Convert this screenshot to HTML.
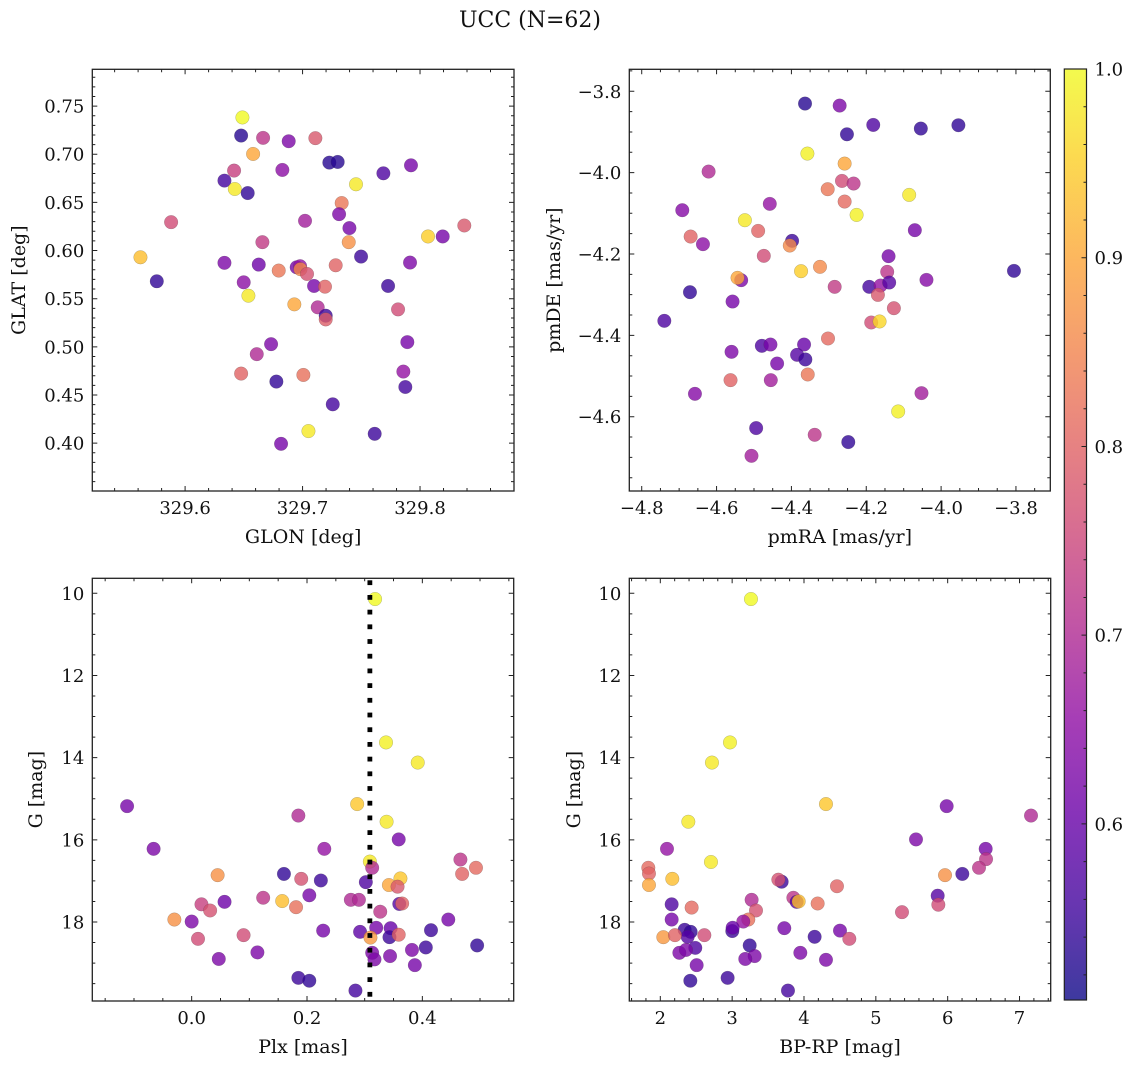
<!DOCTYPE html>
<html><head><meta charset="utf-8">
<style>
html,body{margin:0;padding:0;background:#fff;}
svg{display:block;}
text{font-family:"DejaVu Serif","Liberation Serif",serif;fill:#111;}
</style></head>
<body>
<svg id="fig" width="1136" height="1068" viewBox="0 0 1136 1068" xmlns="http://www.w3.org/2000/svg">
<text x="530" y="27" font-size="22" text-anchor="middle">UCC (N=62)</text>
</svg>
<script>
// ---- data: panel GLON/GLAT ----
const glon = [329.6488,329.6477,329.6664,329.6882,329.7109,329.6579,329.7228,329.7299,329.6417,329.6828,329.6335,329.7688,329.7923,329.7455,329.6423,329.6533,329.7333,329.7311,329.7021,329.7399,329.5881,329.8068,329.8193,329.8377,329.6658,329.7393,329.562,329.7498,329.6335,329.6627,329.695,329.6979,329.6982,329.6797,329.7038,329.7282,329.7915,329.5759,329.6499,329.7098,329.7191,329.7728,329.6539,329.693,329.7129,329.7813,329.7197,329.7197,329.6732,329.661,329.7892,329.6477,329.7007,329.6777,329.7858,329.7875,329.7257,329.705,329.7614,329.6817];
const glat = [0.7382,0.7194,0.717,0.7135,0.7167,0.7003,0.6913,0.692,0.683,0.6837,0.6726,0.6802,0.6885,0.6688,0.6639,0.6597,0.6493,0.6378,0.6309,0.6233,0.6295,0.6146,0.6146,0.626,0.6087,0.6087,0.593,0.5937,0.5872,0.5854,0.5826,0.5837,0.5806,0.5792,0.5757,0.5847,0.5875,0.5681,0.567,0.5632,0.5625,0.5632,0.5531,0.5441,0.541,0.5389,0.5323,0.5285,0.5028,0.4924,0.5049,0.4722,0.4708,0.4639,0.4743,0.4583,0.4403,0.4125,0.4097,0.3993];
const probA = [1.0,0.53,0.72,0.63,0.78,0.9,0.53,0.53,0.74,0.65,0.56,0.57,0.62,0.98,0.98,0.54,0.83,0.63,0.68,0.62,0.76,0.95,0.62,0.78,0.73,0.87,0.93,0.55,0.63,0.61,0.62,0.66,0.86,0.83,0.77,0.8,0.63,0.54,0.65,0.62,0.8,0.55,0.98,0.9,0.7,0.76,0.55,0.79,0.63,0.7,0.62,0.8,0.82,0.54,0.66,0.56,0.56,0.98,0.55,0.62];
// ---- data: panel pmRA/pmDE ----
const pmra = [-4.3636,-4.2711,-4.1813,-4.2516,-4.0542,-3.9538,-4.3573,-4.2578,-4.6213,-4.2649,-4.2338,-4.3031,-4.2578,-4.0853,-4.6916,-4.4578,-4.2258,-4.5244,-4.4889,-4.0702,-4.6693,-4.6364,-4.3982,-4.4044,-4.4738,-4.1404,-4.3742,-4.3236,-4.144,-3.8053,-4.5342,-4.544,-4.0391,-4.6711,-4.2844,-4.192,-4.1618,-4.1387,-4.1689,-4.1262,-4.5573,-4.7396,-4.1867,-4.1644,-4.3022,-4.56,-4.4791,-4.456,-4.3662,-4.3849,-4.3627,-4.4382,-4.5627,-4.4551,-4.3564,-4.6578,-4.0524,-4.1147,-4.4942,-4.3378,-4.248,-4.5067];
const pmde = [-3.8303,-3.8352,-3.8827,-3.9057,-3.8917,-3.8835,-3.9532,-3.9778,-3.9974,-4.0203,-4.0268,-4.0408,-4.0711,-4.0547,-4.0924,-4.0768,-4.1039,-4.117,-4.1432,-4.1415,-4.1571,-4.1759,-4.1677,-4.1792,-4.2046,-4.2054,-4.2423,-4.2316,-4.2439,-4.2415,-4.2644,-4.2586,-4.2636,-4.2939,-4.2808,-4.2808,-4.2775,-4.2701,-4.3005,-4.3333,-4.3168,-4.3643,-4.3684,-4.3659,-4.4077,-4.4405,-4.4257,-4.4225,-4.4225,-4.4479,-4.4593,-4.4692,-4.5101,-4.5101,-4.4962,-4.5437,-4.542,-4.5871,-4.628,-4.6444,-4.6624,-4.6961];
const probB = [0.53,0.63,0.57,0.54,0.54,0.54,0.99,0.9,0.7,0.76,0.72,0.83,0.81,0.98,0.64,0.66,0.99,0.98,0.8,0.62,0.8,0.65,0.55,0.86,0.76,0.62,0.95,0.86,0.72,0.54,0.63,0.9,0.64,0.54,0.73,0.56,0.66,0.58,0.78,0.77,0.62,0.57,0.76,0.96,0.81,0.63,0.57,0.62,0.6,0.58,0.55,0.62,0.8,0.68,0.83,0.64,0.68,0.99,0.57,0.72,0.54,0.68];
// ---- data: panel Plx/G ----
const plx = [0.318,0.337,0.392,-0.112,0.287,0.185,0.338,-0.066,0.230,0.359,0.309,0.313,0.466,0.493,0.469,0.045,0.160,0.190,0.224,0.302,0.362,0.342,0.357,0.204,0.124,0.157,0.181,0.276,0.290,0.360,0.365,0.017,0.057,0.032,0.327,-0.030,0.000,0.445,0.415,0.320,0.345,0.228,0.292,0.310,0.343,0.359,0.090,0.011,0.114,0.047,0.313,0.317,0.344,0.382,0.406,0.495,0.387,0.185,0.204,0.284];
const gA = [10.14,13.63,14.12,15.18,15.13,15.41,15.56,16.22,16.22,15.99,16.53,16.68,16.48,16.68,16.83,16.86,16.83,16.95,16.99,17.03,16.94,17.10,17.14,17.35,17.41,17.49,17.64,17.46,17.46,17.56,17.55,17.57,17.51,17.72,17.75,17.94,17.99,17.94,18.20,18.14,18.15,18.21,18.24,18.38,18.37,18.31,18.32,18.41,18.74,18.90,18.75,18.91,18.83,18.68,18.62,18.57,19.05,19.36,19.43,19.67];
const probC = [1.0,0.99,0.98,0.62,0.94,0.7,0.98,0.63,0.66,0.62,0.98,0.7,0.72,0.81,0.8,0.87,0.54,0.77,0.55,0.57,0.94,0.9,0.78,0.62,0.72,0.93,0.82,0.7,0.7,0.58,0.8,0.74,0.61,0.77,0.72,0.87,0.63,0.62,0.55,0.62,0.6,0.62,0.59,0.88,0.55,0.8,0.76,0.76,0.63,0.63,0.63,0.63,0.63,0.63,0.55,0.54,0.62,0.55,0.54,0.56];
// ---- data: panel BP-RP/G ----
const bprp = [3.262,2.970,2.719,4.306,2.390,5.986,7.160,5.559,2.093,6.529,2.705,6.534,6.436,1.833,1.842,6.204,5.963,2.167,1.842,3.689,3.643,4.459,5.861,5.870,3.271,3.852,3.898,3.926,4.190,2.158,2.436,5.364,3.332,3.225,3.155,2.158,3.002,3.007,3.726,4.501,2.339,2.422,2.381,2.042,2.204,2.613,4.148,4.631,3.244,2.487,2.265,2.357,3.313,3.183,3.949,4.306,2.506,2.937,2.418,3.777];
const gB = [10.14,13.63,14.12,15.13,15.56,15.18,15.41,15.99,16.22,16.22,16.54,16.47,16.68,16.68,16.82,16.83,16.86,16.95,17.10,17.02,16.97,17.13,17.36,17.58,17.46,17.41,17.51,17.50,17.55,17.57,17.65,17.76,17.72,17.94,17.99,17.94,18.22,18.14,18.15,18.21,18.19,18.24,18.36,18.37,18.32,18.32,18.36,18.41,18.57,18.63,18.75,18.68,18.83,18.90,18.75,18.92,19.05,19.36,19.43,19.67];
const probD = [1.0,0.99,0.98,0.94,0.98,0.62,0.7,0.63,0.66,0.62,0.98,0.72,0.72,0.81,0.8,0.55,0.87,0.93,0.9,0.55,0.77,0.8,0.58,0.76,0.7,0.72,0.58,0.93,0.82,0.57,0.81,0.76,0.77,0.82,0.66,0.62,0.55,0.6,0.62,0.62,0.55,0.54,0.58,0.88,0.8,0.76,0.55,0.76,0.54,0.57,0.63,0.63,0.63,0.63,0.63,0.63,0.62,0.55,0.54,0.56];
const plxLine = [0.309];
// tick labels
const ticksAx = [329.6,329.7,329.8], ticksAy = [0.40,0.45,0.50,0.55,0.60,0.65,0.70,0.75];
const ticksBx = [-4.8,-4.6,-4.4,-4.2,-4.0,-3.8], ticksBy = [-4.6,-4.4,-4.2,-4.0,-3.8];
const ticksCx = [0.0,0.2,0.4], ticksGy = [10,12,14,16,18];
const ticksDx = [2,3,4,5,6,7];
const cbTicks = [0.6,0.7,0.8,0.9,1.0];
const vmin = 0.5067, vmax = 1.0;

const NS = "http://www.w3.org/2000/svg";
const svg = document.getElementById('fig');
const TICKFS = 18, LABFS = 19;
function mk(tag, attrs, parent){
  const e = document.createElementNS(NS, tag);
  for (const k in attrs) e.setAttribute(k, attrs[k]);
  (parent||svg).appendChild(e);
  return e;
}
const plasmaStops = ['#0d0887','#41049d','#6a00a8','#8f0da4','#b12a90','#cc4778','#e16462','#f2844b','#fca636','#fcce25','#f0f921'];
function hex2rgb(h){return [parseInt(h.slice(1,3),16),parseInt(h.slice(3,5),16),parseInt(h.slice(5,7),16)];}
function plasma(t){
  t = Math.max(0, Math.min(1, t));
  const s = t*10, i = Math.min(9, Math.floor(s)), f = s - i;
  const a = hex2rgb(plasmaStops[i]), b = hex2rgb(plasmaStops[i+1]);
  return 'rgb(' + [0,1,2].map(k => Math.round(a[k] + (b[k]-a[k])*f)).join(',') + ')';
}
function fmt(v, d){ const s = v.toFixed(d); return s.replace('-', '\u2212'); }

function panel(cfg, xs, ys, ps, xt, yt){
  const g = mk('g', {});
  
  
  const X = v => cfg.px0 + (v - cfg.x0) / (cfg.x1 - cfg.x0) * (cfg.px1 - cfg.px0);
  const Y = v => cfg.py0 + (v - cfg.y0) / (cfg.y1 - cfg.y0) * (cfg.py1 - cfg.py0);
  const pg = mk('g', {}, g);
  
  
  for (let i = 0; i < xs.length; i++){
    const c = mk('circle', {cx: X(xs[i]).toFixed(2), cy: Y(ys[i]).toFixed(2), r: 6.8,
      fill: plasma((ps[i]-vmin)/(vmax-vmin)), 'fill-opacity': 0.8, stroke: 'rgba(60,60,60,0.35)', 'stroke-width': 0.5}, pg);
    
    
  }
  const top = Math.min(cfg.py0,cfg.py1), bot = Math.max(cfg.py0,cfg.py1);
  if (cfg.vline){
    const lg = mk('g', {fill: '#000'}, g);
    
    
    const lx = X(cfg.vline[0]);
    for (let yy = top + 2; yy < bot - 2; yy += 14.7){
      mk('rect', {x: (lx - 2.4).toFixed(2), y: yy.toFixed(2), width: 4.8, height: 4.8}, lg);
    }
  }
  const fr = mk('rect', {x: Math.min(cfg.px0,cfg.px1), y: top, width: Math.abs(cfg.px1-cfg.px0), height: bot - top, fill: 'none', stroke: '#222', 'stroke-width': 1.3}, g);
  
  
  const lft = cfg.px0, rgt = cfg.px1;
  const xlo = Math.min(cfg.x0,cfg.x1), xhi = Math.max(cfg.x0,cfg.x1);
  const ylo = Math.min(cfg.y0,cfg.y1), yhi = Math.max(cfg.y0,cfg.y1);
  let d = '';
  for (let k = Math.ceil(xlo/cfg.xm - 1e-6); k*cfg.xm <= xhi + 1e-9; k++){
    const v = k*cfg.xm, px = X(v);
    const major = xt.some(t => Math.abs(t - v) < cfg.xm/10);
    const L = major ? 5 : 3;
    d += `M${px},${bot}v${-L}M${px},${top}v${L}`;
  }
  for (let k = Math.ceil(ylo/cfg.ym - 1e-6); k*cfg.ym <= yhi + 1e-9; k++){
    const v = k*cfg.ym, py = Y(v);
    const major = yt.some(t => Math.abs(t - v) < cfg.ym/10);
    const L = major ? 5 : 3;
    d += `M${lft},${py}h${L}M${rgt},${py}h${-L}`;
  }
  const tk = mk('path', {d: d, stroke: '#222', 'stroke-width': 1, fill: 'none'}, g);
  
  
  xt.forEach(v => {
    const t = mk('text', {x: X(v), y: bot + 23, 'font-size': TICKFS, 'text-anchor': 'middle'}, g);
    t.textContent = fmt(v, cfg.xd);
    
    
  });
  yt.forEach(v => {
    const t = mk('text', {x: lft - 8, y: Y(v) + 6.5, 'font-size': TICKFS, 'text-anchor': 'end'}, g);
    t.textContent = fmt(v, cfg.yd);
    
    
  });
  const xl = mk('text', {x: (lft+rgt)/2, y: bot + 52, 'font-size': LABFS, 'text-anchor': 'middle'}, g);
  xl.textContent = cfg.xlabel;
  
  
  const yc = (top+bot)/2;
  const yl = mk('text', {x: cfg.ylx, y: yc, 'font-size': LABFS, 'text-anchor': 'middle', transform: `rotate(-90 ${cfg.ylx} ${yc})`}, g);
  yl.textContent = cfg.ylabel;
  
  
}

panel({name:'panel-glon-glat', px0:92.3, px1:514, x0:329.521, x1:329.88, py0:491, py1:69.3, y0:0.3503, y1:0.7882, xm:0.02, ym:0.01, xd:1, yd:2, xlabel:'GLON [deg]', ylabel:'GLAT [deg]', ylx:25}, glon, glat, probA, ticksAx, ticksAy);
panel({name:'panel-pm', px0:629.3, px1:1050.3, x0:-4.8332, x1:-3.7082, py0:491, py1:69.3, y0:-4.7826, y1:-3.746, xm:0.05, ym:0.05, xd:1, yd:1, xlabel:'pmRA [mas/yr]', ylabel:'pmDE [mas/yr]', ylx:560}, pmra, pmde, probB, ticksBx, ticksBy);
panel({name:'panel-plx-g', px0:92.3, px1:513.7, x0:-0.1723, x1:0.5584, py0:578.3, py1:1001, y0:9.635, y1:19.923, xm:0.05, ym:0.5, xd:1, yd:0, xlabel:'Plx [mas]', ylabel:'G [mag]', ylx:42, vline: plxLine}, plx, gA, probC, ticksCx, ticksGy);
panel({name:'panel-cmd', px0:629.3, px1:1050.7, x0:1.5684, x1:7.434, py0:578.3, py1:1001, y0:9.635, y1:19.923, xm:0.2, ym:0.5, xd:0, yd:0, xlabel:'BP-RP [mag]', ylabel:'G [mag]', ylx:580}, bprp, gB, probD, ticksDx, ticksGy);

(function(){
  const cx0 = 1064.3, cx1 = 1086.5, cy0 = 69, cy1 = 1000;
  const cg = mk('g', {});
  
  
  const defs = mk('defs', {}, cg);
  const lg = mk('linearGradient', {id: 'cbgrad', x1: 0, y1: 1, x2: 0, y2: 0}, defs);
  for (let i = 0; i <= 20; i++){
    mk('stop', {offset: (i/20), 'stop-color': plasma(i/20)}, lg);
  }
  mk('rect', {x: cx0, y: cy0, width: cx1-cx0, height: cy1-cy0, fill: 'url(#cbgrad)', 'fill-opacity': 0.8}, cg);
  mk('rect', {x: cx0, y: cy0, width: cx1-cx0, height: cy1-cy0, fill: 'none', stroke: '#222', 'stroke-width': 1.2}, cg);
  const Yc = v => cy1 - (v - vmin)/(vmax - vmin)*(cy1 - cy0);
  let d = '';
  for (let k = 26; k <= 50; k++){
    const v = k*0.02; if (v < vmin) continue;
    const major = cbTicks.some(t => Math.abs(t - v) < 0.001);
    d += `M${cx1},${Yc(v)}h${major ? -5 : -3}`;
  }
  mk('path', {d: d, stroke: '#222', 'stroke-width': 1}, cg);
  cbTicks.forEach(v => {
    const t = mk('text', {x: cx1 + 8, y: Yc(v) + 6.5, 'font-size': TICKFS}, cg);
    t.textContent = v.toFixed(1);
    
    
  });
})();
</script>
</body></html>
